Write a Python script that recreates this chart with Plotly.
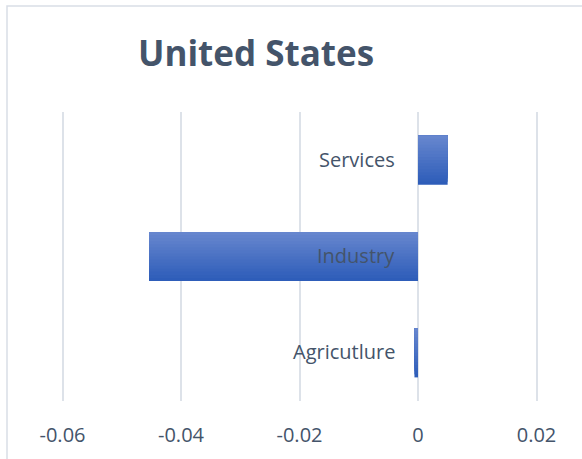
import plotly.graph_objects as go

# Sector contributions for the United States
categories = ["Agricutlure", "Industry", "Services"]
values = [-0.0006, -0.0454, 0.005]
tick_vals = [-0.06, -0.04, -0.02, 0, 0.02]
tick_text = ["-0.06", "-0.04", "-0.02", "0", "0.02"]

FONT = "Open Sans"
TEXT = "#44546A"
GRID = "#DDE2E9"

fig = go.Figure()

# Vertical gradient on each bar: overlapping layers, each one starting a
# little higher and a little lighter, so no background shows between them
bar_width = 0.51
n_layers = 16
top_rgb = (0x66, 0x86, 0xCE)
bot_rgb = (0x2E, 0x5D, 0xB9)
step = bar_width / n_layers
for k in range(n_layers):
    t = k / (n_layers - 1)
    rgb = tuple(round(b + (a - b) * t) for a, b in zip(top_rgb, bot_rgb))
    fig.add_trace(go.Bar(
        x=values, y=categories, orientation="h",
        width=bar_width - k * step, offset=-bar_width / 2 + k * step,
        marker=dict(color="rgb(%d,%d,%d)" % rgb, line=dict(width=0)),
        showlegend=False, hoverinfo="skip",
    ))

# Category labels sit next to the zero line
for c in categories:
    fig.add_annotation(x=0, y=c, xref="x", yref="y", text=c, showarrow=False,
                       xanchor="right", yanchor="middle", xshift=-21, yshift=1,
                       font=dict(family=FONT, size=20, color=TEXT))

L, R, T, B = 30, 12, 112, 58
W, H = 582, 459
pw, ph = W - L - R, H - T - B
bx = (7 - L) / pw
by = (H - B - 6) / ph
fig.add_shape(type="path", xref="paper", yref="paper",
              path=f"M {bx} -1 L {bx} {by} L 2 {by}",
              line=dict(color="#D9DEE6", width=1.5))

fig.update_layout(
    width=W, height=H,
    margin=dict(l=L, r=R, t=T, b=B),
    paper_bgcolor="white", plot_bgcolor="white",
    barmode="overlay",
    title=dict(text="<b>United States</b>", x=(256 - L) / pw, xref="paper",
               xanchor="center", y=1 - 54 / H, yanchor="middle",
               font=dict(family=FONT, size=35, color=TEXT)),
    xaxis=dict(range=[(L - 418) / 5925, (W - R - 418) / 5925],
               tickvals=tick_vals, ticktext=tick_text, automargin=False,
               showgrid=True, gridcolor=GRID, gridwidth=1.5,
               zeroline=True, zerolinecolor=GRID, zerolinewidth=1.5,
               showline=False, ticks="", ticklen=0, ticklabelstandoff=20,
               tickfont=dict(family=FONT, size=20, color=TEXT)),
    yaxis=dict(showticklabels=False, showgrid=False, zeroline=False,
               showline=False, range=[-0.5, 2.5], automargin=False),
    font=dict(family=FONT),
)

fig.write_html("out.html")
